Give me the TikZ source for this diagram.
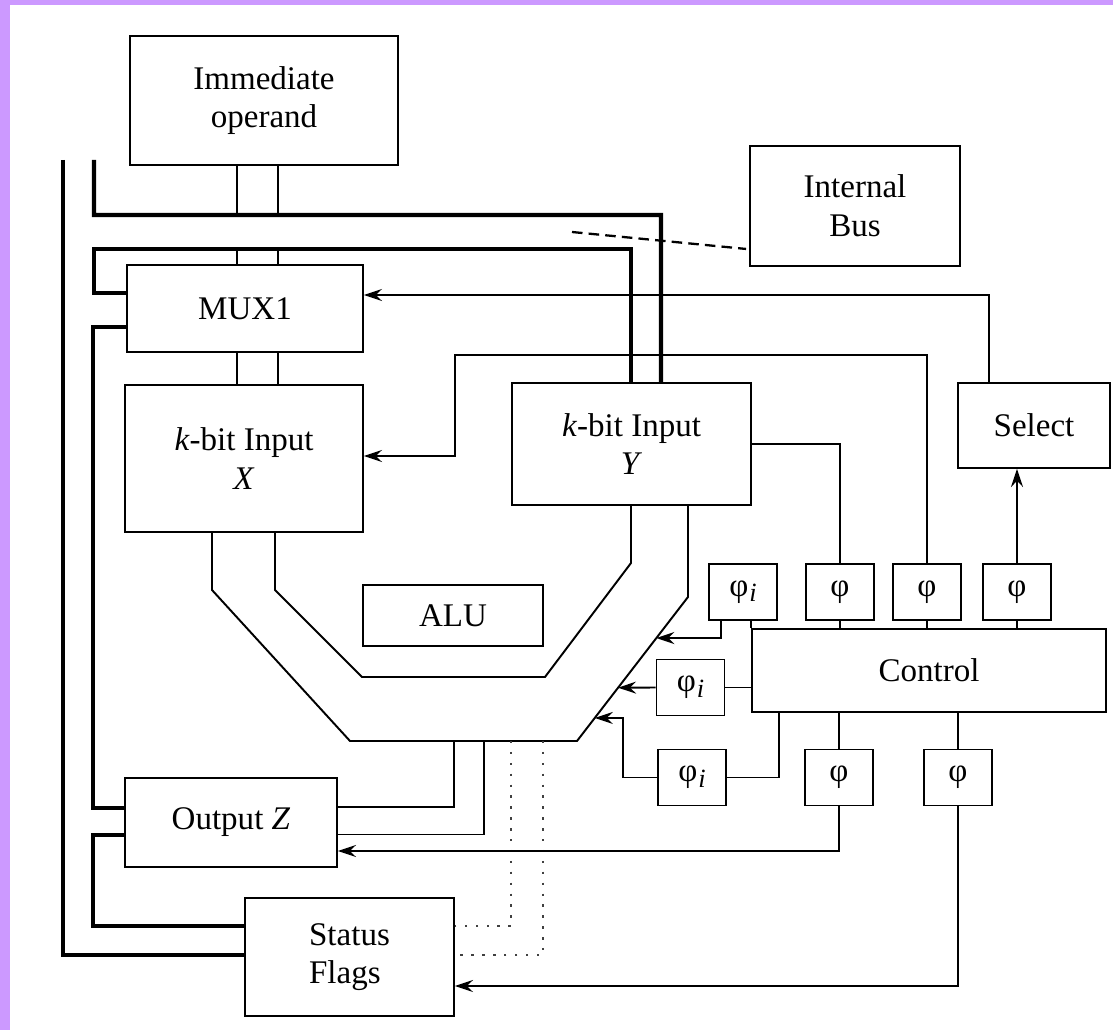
\documentclass[tikz,border=0pt]{standalone}
\usepackage{fontspec}
\setmainfont{Liberation Serif}
\usepackage{xcolor}
\usepackage{tikz}
\usetikzlibrary{arrows.meta, calc}
\definecolor{lavender}{RGB}{204,153,255}
\newcommand{\phiI}{φ\kern0.5pt\raisebox{-0.35ex}{\fontsize{15}{15}\selectfont\itshape i}}

\begin{document}
\begin{tikzpicture}[
  x=0.02cm, y=-0.02cm,
  every node/.style={font=\fontsize{18.8}{22}\selectfont},
  block/.style={draw,line width=1.1pt,align=center,inner sep=0pt},
  phibox/.style={block,minimum width=1.36cm,minimum height=1.12cm},
  bus/.style={line width=2.3pt},
  wire/.style={line width=1.1pt},
  sig/.style={wire,-{Stealth[length=3.6mm,width=2.4mm,inset=1.2mm]}},
  flagline/.style={line width=1.4pt,black!75,dash pattern=on 1.4pt off 4.8pt}
]
% page
\fill[white] (0,0) rectangle (1113,1030);
\fill[lavender] (0,0) rectangle (1113,5);
\fill[lavender] (0,0) rectangle (10,1030);
\useasboundingbox (0,0) rectangle (1113,1030);
% blocks
\node[block,minimum width=5.36cm,minimum height=2.58cm] (imm) at (264,100.5) {Immediate\\operand};
\node[block,minimum width=4.20cm,minimum height=2.40cm] (bus) at (855,206) {Internal\\Bus};
\node[block,minimum width=4.72cm,minimum height=1.74cm] (mux) at (245,308.5) {MUX1};
\node[block,minimum width=4.76cm,minimum height=2.94cm] (inx) at (244,458.5) {\textit{k}-bit Input\\\textit{X}};
\node[block,minimum width=4.78cm,minimum height=2.44cm] (iny) at (631.5,444) {\textit{k}-bit Input\\\textit{Y}};
\node[block,minimum width=3.04cm,minimum height=1.70cm] (sel) at (1034,425.5) {Select};
\node[block,minimum width=3.60cm,minimum height=1.22cm] (alu) at (453,615.5) {ALU};
\node[block,minimum width=7.08cm,minimum height=1.66cm] (ctrl) at (929,670.5) {Control};
\node[block,minimum width=4.24cm,minimum height=1.78cm] (outz) at (231,822.5) {Output \textit{Z}};
\node[block,align=left,minimum width=4.18cm,minimum height=2.36cm] (flags) at (349.5,957) {Status\\Flags};
% clock boxes
\node[phibox] (pi1) at (743,592) {\phiI};
\node[phibox] (p1) at (840,592) {φ};
\node[phibox] (p2) at (927,592) {φ};
\node[phibox] (p3) at (1017,592) {φ};
\node[phibox] (pi2) at (690.5,687.5) {\phiI};
\node[phibox] (pi3) at (692,777.5) {\phiI};
\node[phibox] (p4) at (839,777.5) {φ};
\node[phibox] (p5) at (958,777.5) {φ};
% ALU data path
\coordinate (o1) at ($(inx.south)+(-32,0)$);
\coordinate (o2) at (212,590);
\coordinate (o3) at (350,741);
\coordinate (o4) at (577,741);
\coordinate (o5) at (688,597);
\coordinate (o6) at ($(iny.south)+(56.5,0)$);
\coordinate (i1) at ($(inx.south)+(31,0)$);
\coordinate (i2) at (275,590);
\coordinate (i3) at (362,677);
\coordinate (i4) at (545,677);
\coordinate (i5) at (631,563);
\coordinate (i6) at ($(iny.south)+(-0.5,0)$);
\draw[wire] (o1) -- (o2) -- (o3) -- (o4) -- (o5) -- (o6);
\draw[wire] (i1) -- (i2) -- (i3) -- (i4) -- (i5) -- (i6);
% buses
\coordinate (b1) at (63,160);
\coordinate (b2) at (94,160);
\coordinate (railA) at (661,215);
\coordinate (railB) at (94,249);
\coordinate (yL) at ($(iny.north)+(-0.5,0)$);
\coordinate (yR) at ($(iny.north)+(29.5,0)$);
\draw[bus] (b1) |- ($(flags.west)+(0,-2)$);
\draw[bus] (b2) |- (railA) -- (yR);
\draw[bus] ($(mux.west)+(0,-15.5)$) -| (railB) -| (yL);
\draw[bus] ($(mux.west)+(0,18.5)$) -- ++(-33,0) |- ($(outz.west)+(0,-14.5)$);
\draw[bus] ($(outz.west)+(0,12.5)$) -- ++(-31,0) |- ($(flags.west)+(0,-31)$);
\foreach \dx in {-27,14} \draw[wire] ($(imm.south)+(\dx,0)$) coordinate (t) -- (t |- railA);
\foreach \dx in {-8,33} \draw[wire] ($(mux.north)+(\dx,0)$) coordinate (t) -- (t |- railB);
\foreach \dx in {-8,33} \draw[wire] ($(mux.south)+(\dx,0)$) coordinate (t) -- (t |- inx.north);
\coordinate (dashA) at (572,232);
\draw[line width=1.3pt,dash pattern=on 6pt off 3.5pt] (dashA) -- ($(bus.south west)+(-3,-18)$);
% results
\draw[wire] ($(o3)!0.458!(o4)$) |- ($(outz.east)+(0,-15.5)$);
\draw[wire] ($(o3)!0.59!(o4)$) |- ($(outz.east)+(0,12)$);
\draw[flagline] ($(o3)!0.709!(o4)$) |- ($(flags.east)+(0,-31)$);
\draw[flagline] ($(o3)!0.85!(o4)$) |- ($(flags.east)+(0,-2)$);
% control
\draw[sig] ($(sel.north)+(-45,0)$) |- ($(mux.east)+(0,-13.5)$);
\draw[sig] (p2.north) |- (455,355) |- ($(inx.east)+(0,-2.5)$);
\draw[wire] (iny.east) -| (p1.north);
\draw[sig] (p3.north) -- (p3.north |- sel.south);
\foreach \p in {p1,p2,p3} \draw[wire] (\p.south) -- (\p.south |- ctrl.north);
\draw[wire] (pi1.south -| ctrl.west) -- (ctrl.north west);
\draw[sig] ($(pi1.south)+(-22,0)$) |- ($(o4)!0.715!(o5)$);
\draw[wire] (pi2.east) -- (pi2.east -| ctrl.west);
\draw[sig] (pi2.west) -- ($(o4)!0.37!(o5)$);
\draw[wire] (pi3.east) -| ($(ctrl.south)+(-150,0)$);
\draw[sig] (pi3.west) -- ++(-34,0) |- ($(o4)!0.16!(o5)$);
\foreach \p in {p4,p5} \draw[wire] (\p.north) -- (\p.north |- ctrl.south);
\draw[sig] (p4.south) |- ($(outz.east)+(0,28.5)$);
\draw[sig] (p5.south) |- ($(flags.east)+(0,29)$);
\end{tikzpicture}
\end{document}
